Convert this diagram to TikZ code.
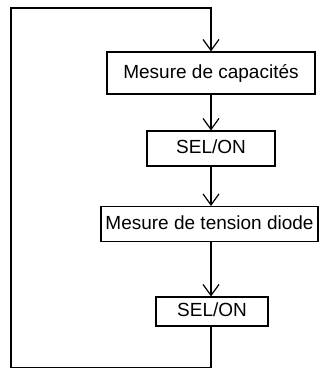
\documentclass[tikz,border=0pt]{standalone}
\usepackage{fontspec}
\setmainfont{Liberation Sans}
\usepackage{tikz}
\usetikzlibrary{arrows.meta, positioning}

\begin{document}
\begin{tikzpicture}[x=1pt, y=-1pt, >={Straight Barb[length=11pt, width=16pt]},
  font=\fontsize{19}{22}\selectfont,
  box/.style={draw, line width=1.1pt, inner sep=0pt, text height=14pt, text depth=4pt},
  conn/.style={line width=1.2pt}]
  \useasboundingbox (0,0) rectangle (321,369);
  % --- Measurement steps ---
  \node[box, minimum width=208pt, minimum height=42pt] (meascap) at (211, 73) {Mesure de capacit\'es};
  \node[box, minimum width=128pt, minimum height=35pt] (selon1) at (211, 148.5) {SEL/ON};
  \node[box, minimum width=217pt, minimum height=35pt] (measdiode) at (209.5, 224) {Mesure de tension diode};
  \node[box, minimum width=112pt, minimum height=29pt] (selon2) at (212, 311.5) {SEL/ON};
  % Arrows down the chain
  \draw[conn, ->] (meascap.south) -- (selon1.north);
  \draw[conn, ->] (selon1.south) -- (measdiode.north -| selon1.south);
  \draw[conn, ->] (measdiode.south -| selon1.south) -- (selon2.north -| selon1.south);
  % --- Return loop ---
  \coordinate (loopbot) at (211, 367.5);
  \coordinate (loopbl) at (11, 367.5);
  \coordinate (looptl) at (11, 8);
  \coordinate (looptop) at (211, 8);
  \draw[conn, ->] (selon2.south -| loopbot) -- (loopbot) -- (loopbl) -- (looptl) -- (looptop) -- (meascap.north);
\end{tikzpicture}
\end{document}
